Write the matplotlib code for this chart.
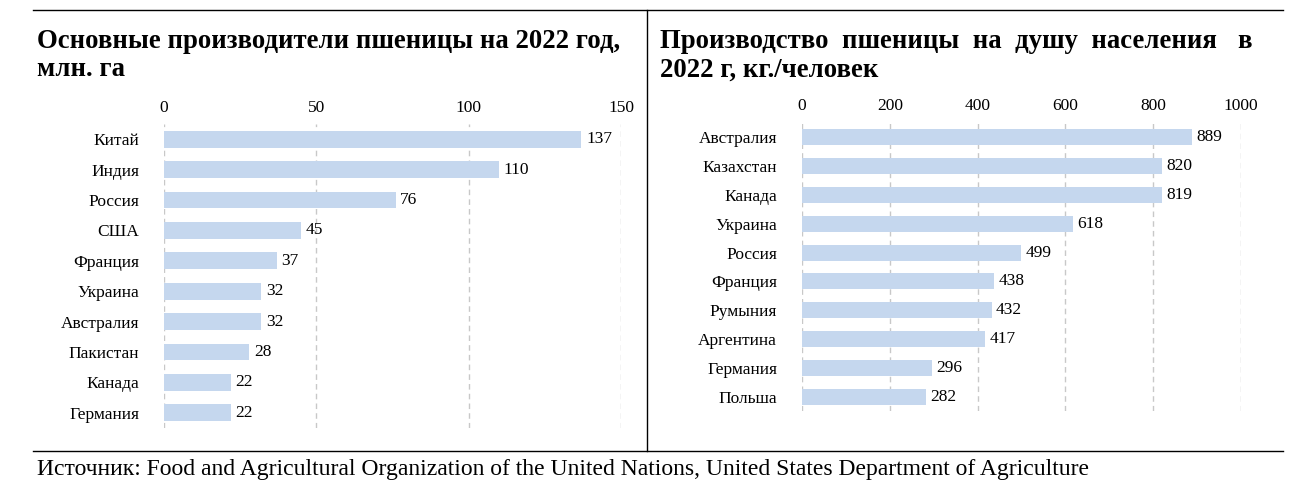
import matplotlib
matplotlib.use("Agg")
import matplotlib.pyplot as plt
from matplotlib.lines import Line2D

plt.rcParams['font.family'] = ['Liberation Serif', 'DejaVu Serif']

left_cats = ["Китай","Индия","Россия","США","Франция","Украина","Австралия","Пакистан","Канада","Германия"]
left_vals = [137,110,76,45,37,32,32,28,22,22]
right_cats = ["Австралия","Казахстан","Канада","Украина","Россия","Франция","Румыния","Аргентина","Германия","Польша"]
right_vals = [889,820,819,618,499,438,432,417,296,282]
left_ticks = [0,50,100,150]
right_ticks = [0,200,400,600,800,1000]

fig = plt.figure(figsize=(13.16,4.92), dpi=100)
bar_color = "#c5d7ee"

def panel(rect, cats, vals, ticks, xmax):
    ax = fig.add_axes(rect)
    y = list(range(len(cats)))
    ax.barh(y, vals, height=0.55, color=bar_color, zorder=2)
    ax.set_ylim(len(cats)-0.5, -0.5)
    ax.set_xlim(0, xmax)
    ax.set_xticks(ticks)
    ax.xaxis.tick_top()
    ax.tick_params(axis='x', length=0, labelsize=12.5, pad=6)
    ax.tick_params(axis='y', length=0, labelsize=12.5, pad=18)
    ax.set_yticks(y)
    ax.set_yticklabels(cats)
    for s in ax.spines.values():
        s.set_visible(False)
    ax.grid(axis='x', linestyle=(0,(4,3)), color='#c8c8c8', linewidth=1, zorder=0)
    for yi, v in zip(y, vals):
        ax.text(v + xmax*0.01, yi, str(v), va='center', ha='left', fontsize=12.5)
    return ax

panel([164/1316, 1-428/492, 457/1316, 304/492], left_cats, left_vals, left_ticks, 150)
panel([802/1316, 1-411.4/492, 439/1316, 288.8/492], right_cats, right_vals, right_ticks, 1000)

fig.add_artist(Line2D([0.025, 0.975], [1-10/492]*2, color='black', lw=1))
fig.add_artist(Line2D([0.025, 0.975], [1-451/492]*2, color='black', lw=1))
fig.add_artist(Line2D([647/1316]*2, [1-10/492, 1-451/492], color='black', lw=1))

fs = 19.3
fig.text(37/1316, 1-42/492, "Основные производители пшеницы на 2022 год,", fontsize=fs, fontweight='bold', va='center')
fig.text(37/1316, 1-70/492, "млн. га", fontsize=fs, fontweight='bold', va='center')
fig.text(660/1316, 1-42/492, "Производство  пшеницы  на  душу  населения", fontsize=fs, fontweight='bold', va='center')
fig.text(1252/1316, 1-42/492, "в", fontsize=fs, fontweight='bold', va='center', ha='right')
fig.text(660/1316, 1-70/492, "2022 г, кг./человек", fontsize=fs, fontweight='bold', va='center')
fig.text(37/1316, 1-469/492, "Источник: Food and Agricultural Organization of the United Nations, United States Department of Agriculture", fontsize=17, va='center')

fig.savefig("out.png", dpi=100)
